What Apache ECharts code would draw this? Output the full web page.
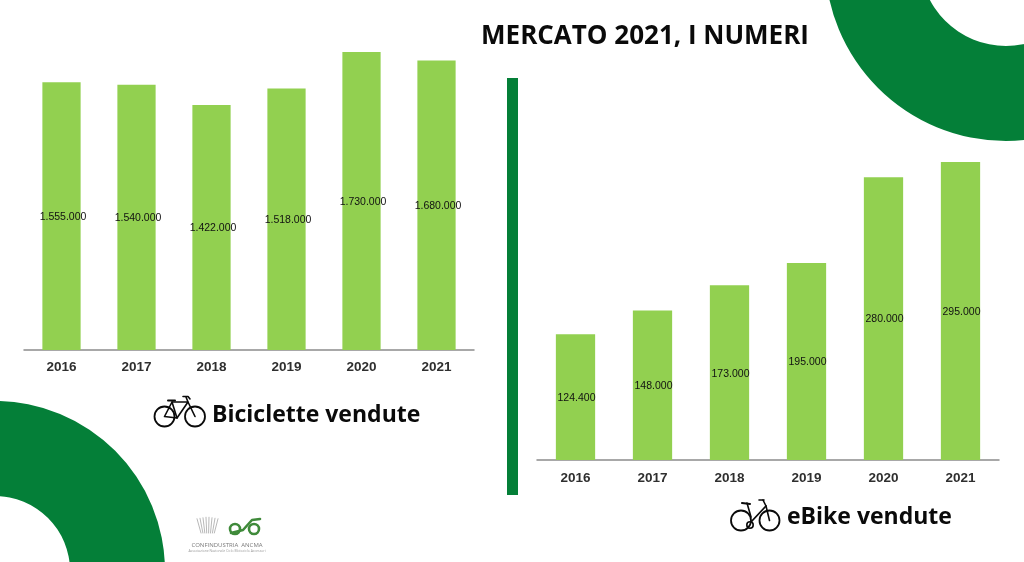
<!DOCTYPE html>
<html><head><meta charset="utf-8">
<style>html,body{margin:0;padding:0;background:#fff}#c{width:1024px;height:562px}</style>
<script src="https://cdn.jsdelivr.net/npm/echarts@6/dist/echarts.min.js"></script>
</head><body><div id="c"></div>
<script>
const years = ['2016','2017','2018','2019','2020','2021'];
const biciclette = [1555000,1540000,1422000,1518000,1730000,1680000];
const ebike = [124400,148000,173000,195000,280000,295000];
const titleText = 'MERCATO 2021, I NUMERI';
const captionLeft = 'Biciclette vendute';
const captionRight = 'eBike vendute';

const DARK='#047f38', BAR='#92d050';
const fmt = p => String(p.value).replace(/\B(?=(\d{3})+$)/g,'.');
const ring=(cx,cy,r0,r)=>({type:'ring',silent:true,shape:{cx,cy,r0,r},style:{fill:DARK}});
const stroke=(lw,col)=>({stroke:col||'#0a0a0a',lineWidth:lw,fill:null,lineCap:'round',lineJoin:'round'});
const circ=(cx,cy,r,lw,col)=>({type:'circle',shape:{cx,cy,r},style:stroke(lw,col)});
const poly=(points,lw,col)=>({type:'polyline',shape:{points},style:stroke(lw,col)});
const txt=(x,y,text,font,fill,align)=>({type:'text',x,y,style:{text,font,fill:fill||'#0a0a0a',align:align||'left',verticalAlign:'middle'}});

const axisCommon = i => ({
  type:'category',gridIndex:i,data:years,
  axisLine:{lineStyle:{color:'#8c8c8c',width:1.5}},
  axisTick:{show:false},
  axisLabel:{color:'#2f2f2f',fontFamily:'Liberation Sans',fontWeight:'bold',fontSize:13.5,margin:i?11:10}
});
const valueAxis=(i,max)=>({type:'value',gridIndex:i,min:0,max,show:false,splitLine:{show:false}});
const barSeries=(i,data,dx)=>({
  type:'bar',xAxisIndex:i,yAxisIndex:i,data,barWidth:'51%',
  itemStyle:{color:BAR},
  label:{show:true,position:'inside',offset:[dx,1],formatter:fmt,color:'#111',fontFamily:'Liberation Sans',fontSize:10.5}
});

const chart=echarts.init(document.getElementById('c'),null,{renderer:'canvas'});
chart.setOption({
  backgroundColor:'#fff',animation:false,
  grid:[
    {left:24,width:450,top:5.5,height:344.5},
    {left:537,width:462,top:56,height:404}
  ],
  xAxis:[axisCommon(0),axisCommon(1)],
  yAxis:[valueAxis(0,2000000),valueAxis(1,400000)],
  series:[barSeries(0,biciclette,1.5),barSeries(1,ebike,1)],
  graphic:[
    ring(1006,-40,86,181),
    ring(-5,571,75,170),
    {type:'rect',shape:{x:507,y:78,width:11,height:417},style:{fill:DARK}},
    txt(645,37,titleText,'bold 26px "Open Sans"','#0a0a0a','center'),
    txt(212,415,captionLeft,'bold 23px "Open Sans"'),
    txt(787,517,captionRight,'bold 23px "Open Sans"'),
    // bicycle icon
    circ(164.5,416.5,10,1.8),circ(195,416.5,10,1.8),
    poly([[164.5,416.5],[172,402],[177,418],[164.5,416.5]],1.6),
    poly([[172,402],[188,402],[177,418]],1.6),
    poly([[186,397],[188,402],[195,416.5]],1.6),
    poly([[168,400.5],[175,400.5]],2),
    poly([[183,396.5],[188,396.5],[190,399]],1.6),
    // ebike icon
    circ(741,520.5,10,1.8),circ(769.5,520.5,10,1.8),
    poly([[747,503],[751,517]],1.6),
    poly([[766,506],[751,522]],1.8),
    poly([[763,500],[766,506],[769.5,520.5]],1.6),
    poly([[742,503],[750,504]],2),
    poly([[759,500],[764,500]],1.6),
    circ(750,525,3.2,1.6),
    // association logo
    ...[0,1,2,3,4,5,6,7].map(i=>poly([[197+i*3,517-Math.abs(i-3.5)*-0.5],[201+i*1.9,533]],0.7,'#9a9a9a')),
    circ(235,529,5,2.6,'#3f8a3a'),circ(254,529,5,2.6,'#3f8a3a'),
    poly([[231,533],[243,530],[252,520],[260,519]],2.6,'#3f8a3a'),
    txt(227,545,'CONFINDUSTRIA  ANCMA','6px "Open Sans"','#7a7a7a','center'),
    txt(227,551,'Associazione Nazionale Ciclo Motociclo Accessori','3.4px "Open Sans"','#9a9a9a','center')
  ]
});
</script></body></html>
